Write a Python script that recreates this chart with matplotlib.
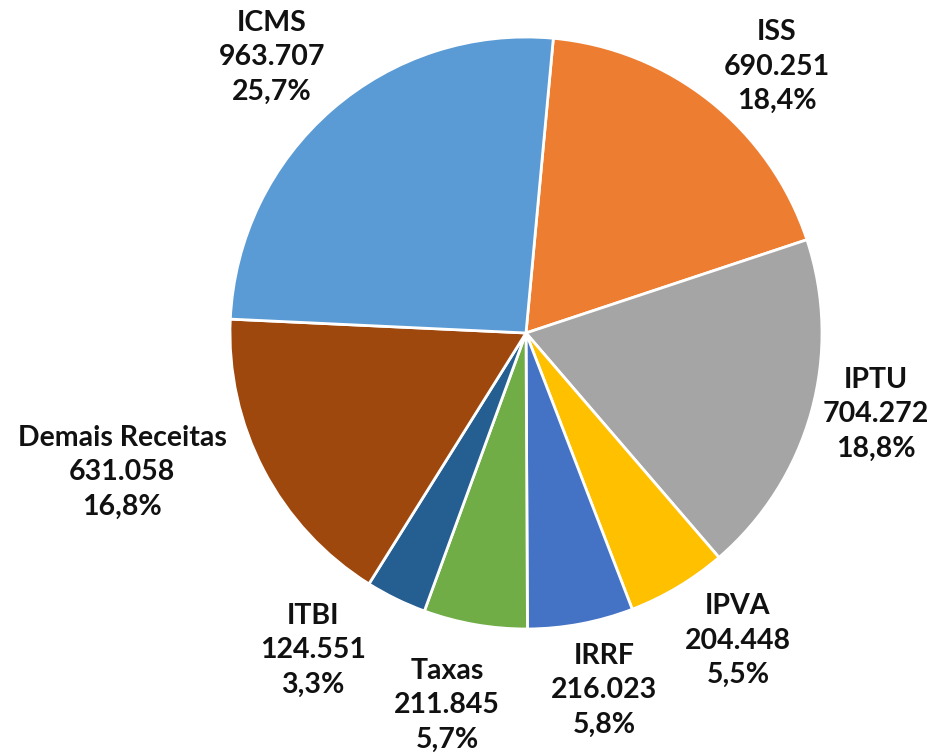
import numpy as np
import matplotlib
matplotlib.use("Agg")
import matplotlib.pyplot as plt

# dados (ordem horária a partir do topo)
nomes = ["ISS", "IPTU", "IPVA", "IRRF", "Taxas", "ITBI", "Demais Receitas", "ICMS"]
valores = [690251, 704272, 204448, 216023, 211845, 124551, 631058, 963707]
cores = ["#ED7D31", "#A5A5A5", "#FFC000", "#4472C4", "#70AD47", "#255E91", "#9E480E", "#5B9BD5"]

# posição dos rótulos (em unidades do raio)
rot_x = [0.848, 1.182, 0.716, 0.264, -0.267, -0.72, -1.365, -0.858]
rot_y = [0.899, -0.274, -1.04, -1.206, -1.257, -1.071, -0.47, 0.932]

total = sum(valores)

fig = plt.figure(figsize=(9.34, 7.56), dpi=100)
ax = fig.add_axes([0, 0, 1, 1])

ax.pie(valores, colors=cores, startangle=84.7, counterclock=False,
       wedgeprops=dict(edgecolor="white", linewidth=2), radius=1)

for i in range(len(nomes)):
    v = f"{valores[i]:,}".replace(",", ".")
    p = f"{valores[i] / total * 100:.1f}%".replace(".", ",")
    ax.text(rot_x[i], rot_y[i], nomes[i] + "\n" + v + "\n" + p,
            ha="center", va="center", fontsize=20.5, fontweight="bold",
            family="Lato", color="#111111", linespacing=1.4)

ax.set_xlim(-526 / 296, (934 - 526) / 296)
ax.set_ylim(-(756 - 333) / 296, 333 / 296)
ax.set_aspect("equal")
ax.axis("off")

fig.savefig("out.png", dpi=100)
